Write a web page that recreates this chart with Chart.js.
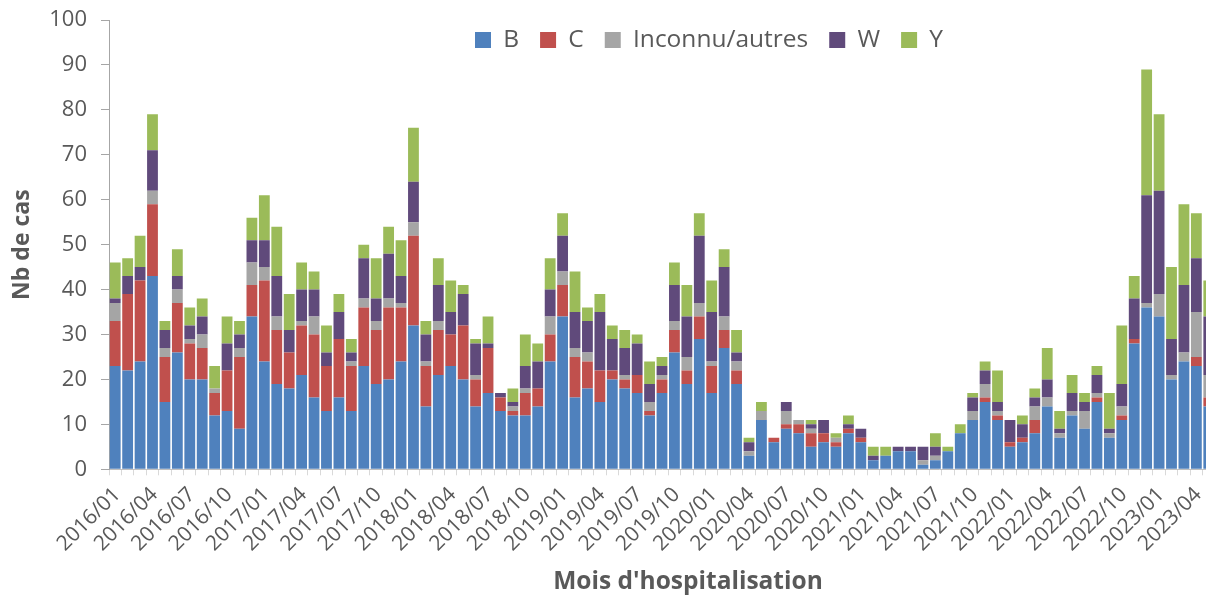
<!DOCTYPE html>
<html>
<head>
<meta charset="utf-8">
<script src="https://cdn.jsdelivr.net/npm/chart.js@4.4.1/dist/chart.umd.min.js"></script>
<style>
  html, body { margin: 0; padding: 0; background: #ffffff; width: 1206px; height: 597px; overflow: hidden; }
  canvas { display: block; }
</style>
</head>
<body>
<canvas id="chart" width="1215" height="597"></canvas>
<script>
// ---------- DATA ----------
const months = [
  '2016/01','2016/02','2016/03','2016/04','2016/05','2016/06','2016/07','2016/08','2016/09','2016/10','2016/11','2016/12',
  '2017/01','2017/02','2017/03','2017/04','2017/05','2017/06','2017/07','2017/08','2017/09','2017/10','2017/11','2017/12',
  '2018/01','2018/02','2018/03','2018/04','2018/05','2018/06','2018/07','2018/08','2018/09','2018/10','2018/11','2018/12',
  '2019/01','2019/02','2019/03','2019/04','2019/05','2019/06','2019/07','2019/08','2019/09','2019/10','2019/11','2019/12',
  '2020/01','2020/02','2020/03','2020/04','2020/05','2020/06','2020/07','2020/08','2020/09','2020/10','2020/11','2020/12',
  '2021/01','2021/02','2021/03','2021/04','2021/05','2021/06','2021/07','2021/08','2021/09','2021/10','2021/11','2021/12',
  '2022/01','2022/02','2022/03','2022/04','2022/05','2022/06','2022/07','2022/08','2022/09','2022/10','2022/11','2022/12',
  '2023/01','2023/02','2023/03','2023/04','2023/05'
];

const serieB = [
  23,22,24,43,15,26,20,20,12,13,9,34,
  24,19,18,21,16,13,16,13,23,19,20,24,
  32,14,21,23,20,14,17,13,12,12,14,24,
  34,16,18,15,20,18,17,12,17,26,19,29,
  17,27,19,3,11,6,9,8,5,6,5,8,
  6,2,3,4,4,1,2,4,8,11,15,11,
  5,6,8,14,7,12,9,15,7,11,28,36,
  34,20,24,23,14
];
const serieC = [
  10,17,18,16,10,11,8,7,5,9,16,7,
  18,12,8,11,14,10,13,10,13,12,16,12,
  20,9,10,7,12,6,10,3,1,5,4,6,
  7,9,6,7,2,2,4,1,3,5,3,5,
  6,4,3,0,0,1,1,2,3,2,1,1,
  1,0,0,0,0,0,0,0,0,0,1,1,
  1,1,3,0,0,0,0,1,0,1,1,0,
  0,0,0,2,2
];
const serieInconnu = [
  4,0,0,3,2,3,1,3,1,0,2,5,
  3,3,0,1,4,0,0,1,2,2,2,1,
  3,1,2,0,0,1,0,0,1,1,0,4,
  3,2,2,0,0,1,0,2,1,2,3,3,
  1,3,2,1,2,0,3,1,1,0,1,0,
  0,0,0,0,0,1,1,0,0,2,3,1,
  0,0,3,2,1,1,4,1,1,2,0,1,
  5,1,2,10,5
];
const serieW = [
  1,4,3,9,4,3,3,4,0,6,3,5,
  6,9,5,7,6,3,6,2,9,5,10,6,
  9,6,8,5,7,7,1,1,1,5,6,6,
  8,8,7,13,7,6,7,4,2,8,9,15,
  11,11,2,2,0,0,2,0,1,3,0,1,
  2,1,0,1,1,3,2,0,0,3,3,2,
  5,3,2,4,1,4,2,4,1,5,9,24,
  23,8,15,12,13
];
const serieY = [
  8,4,7,8,2,6,4,4,5,6,3,5,
  10,11,8,6,4,6,4,3,3,9,6,8,
  12,3,6,7,2,1,6,0,3,7,4,7,
  5,9,3,4,3,4,2,5,2,5,7,5,
  7,4,5,1,2,0,0,0,1,0,1,2,
  0,2,2,0,0,0,3,1,2,1,2,7,
  0,2,2,7,4,4,2,2,8,13,5,28,
  17,16,18,10,8
];
const seriesNames = ['B', 'C', 'Inconnu/autres', 'W', 'Y'];
const yTicks = [0, 10, 20, 30, 40, 50, 60, 70, 80, 90, 100];
const labelStep = 3;

// ---------- STYLE / LAYOUT ----------
const colors = ['#4F81BD', '#C0504D', '#A5A5A5', '#604A7B', '#9BBB59'];
const TEXT = '#595959';
const FONT = "'Open Sans', 'DejaVu Sans', sans-serif";
const Y_AXIS_W = 109;
const X_AXIS_H = 127.7;
const PLOT_TOP = 20;
const LEGEND_X = 475;
const LEGEND_CY = 40;
const XTITLE_CX = 688;

const layoutTweaks = {
  id: 'layoutTweaks',
  beforeLayout(chart) {
    const lg = chart.legend;
    if (lg && !lg._patched) {
      const fit = lg.fit;
      lg.fit = function () { fit.call(this); this._realH = this.height; this.height = 0; };
      lg._patched = true;
    }
  },
  afterLayout(chart) {
    const lg = chart.legend;
    if (lg) {
      const pad = lg.options.labels.padding;
      const fs = lg.options.labels.font.size;
      lg.left = LEGEND_X - pad;
      lg.right = lg.left + 1100;
      lg.top = LEGEND_CY - pad - fs / 2;
      lg.height = lg._realH;
      lg.bottom = lg.top + lg._realH;
      lg.width = lg.right - lg.left;
    }
    const sx = chart.scales.x;
    if (sx && !sx._titlePatched) {
      const dt = sx.drawTitle;
      sx.drawTitle = function () {
        const r = this.right;
        this.right = 2 * XTITLE_CX - this.left;
        dt.call(this);
        this.right = r;
      };
      sx._titlePatched = true;
    }
  }
};

const datasets = [serieB, serieC, serieInconnu, serieW, serieY].map((d, i) => ({
  label: seriesNames[i],
  data: d,
  backgroundColor: colors[i],
  borderWidth: 0,
  barPercentage: 0.87,
  categoryPercentage: 1.0
}));

new Chart(document.getElementById('chart'), {
  type: 'bar',
  data: { labels: months, datasets },
  plugins: [layoutTweaks],
  options: {
    responsive: false,
    animation: false,
    layout: { padding: { top: PLOT_TOP, left: 0, right: 0, bottom: 0 } },
    plugins: {
      tooltip: { enabled: false },
      legend: {
        position: 'top',
        align: 'start',
        labels: {
          boxWidth: 16, boxHeight: 16, padding: 21,
          color: TEXT,
          font: { family: FONT, size: 24.5 }
        }
      }
    },
    scales: {
      x: {
        stacked: true,
        grid: { display: true, drawOnChartArea: false, drawTicks: true, tickLength: 6, color: '#D9D9D9', offset: true },
        border: { display: true, color: '#BFBFBF' },
        ticks: {
          autoSkip: false, minRotation: 45, maxRotation: 45, padding: 7, labelOffset: 2,
          color: TEXT, font: { family: FONT, size: 21 },
          callback: (v, i) => (i % labelStep === 0 ? months[i] : '')
        },
        title: {
          display: true, text: "Mois d'hospitalisation", color: TEXT,
          font: { family: FONT, size: 24.5, weight: 'bold' },
          padding: { top: 0, bottom: 0 }
        },
        afterFit(s) { s.height = X_AXIS_H; s.paddingLeft = 0; s.paddingRight = 0; }
      },
      y: {
        stacked: true, min: 0, max: 100,
        afterBuildTicks(s) { s.ticks = yTicks.map(v => ({ value: v })); },
        grid: { display: true, drawOnChartArea: false, drawTicks: true, tickLength: 8, color: '#A6A6A6' },
        border: { display: true, color: '#A6A6A6' },
        ticks: { padding: 14, color: TEXT, font: { family: FONT, size: 22 } },
        title: {
          display: true, text: 'Nb de cas', color: TEXT,
          font: { family: FONT, size: 23, weight: 'bold' },
          padding: { top: 9, bottom: 0 }
        },
        afterFit(s) { s.width = Y_AXIS_W; s.paddingTop = 0; s.paddingBottom = 0; }
      }
    }
  }
});
</script>
</body>
</html>
